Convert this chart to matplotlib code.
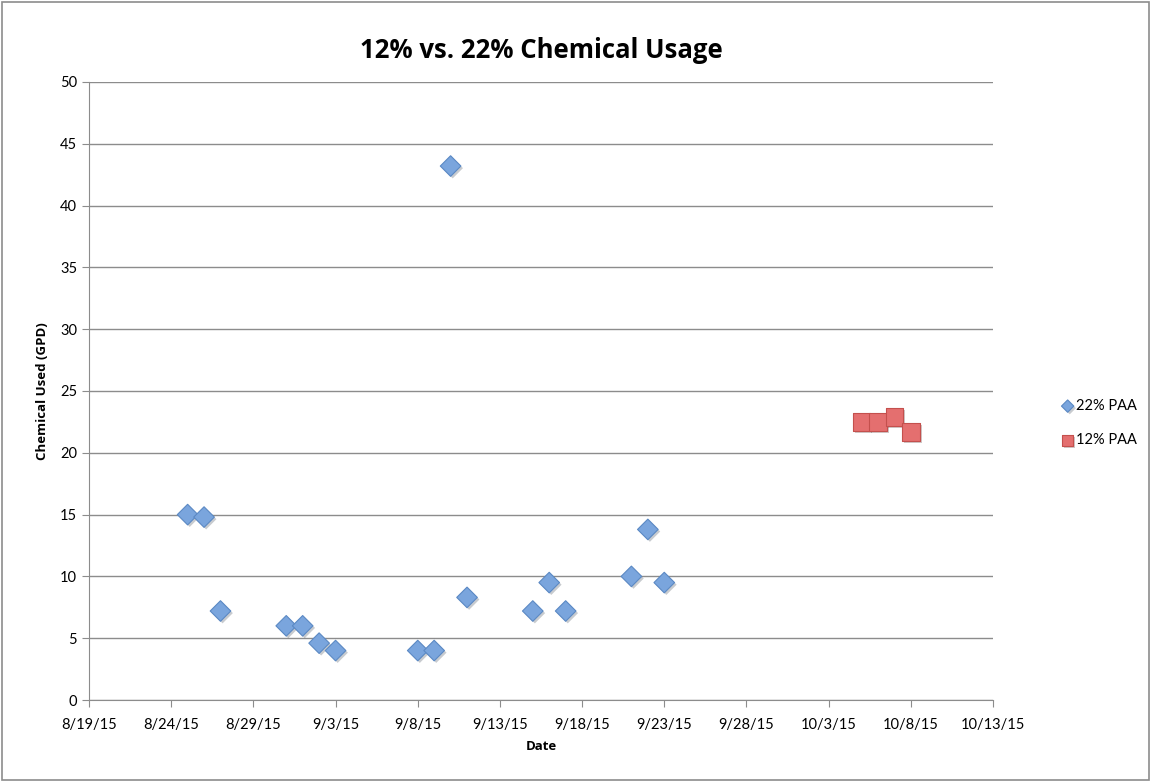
import numpy as np
import matplotlib
matplotlib.use('Agg')
from matplotlib import pyplot as plt
import matplotlib.patheffects as pe
from datetime import date, timedelta

plt.rcParams['font.family'] = ['Lato', 'DejaVu Sans']

# 22% PAA series
paa22_dates = ['2015-08-25', '2015-08-26', '2015-08-27', '2015-08-31', '2015-09-01',
               '2015-09-02', '2015-09-03', '2015-09-08', '2015-09-09', '2015-09-10',
               '2015-09-11', '2015-09-15', '2015-09-16', '2015-09-17', '2015-09-21',
               '2015-09-22', '2015-09-23']
paa22_vals = [15.0, 14.8, 7.2, 6.0, 6.0, 4.6, 4.0, 4.0, 4.0, 43.2,
              8.3, 7.2, 9.5, 7.2, 10.0, 13.8, 9.5]

# 12% PAA series
paa12_dates = ['2015-10-05', '2015-10-06', '2015-10-07', '2015-10-08']
paa12_vals = [22.5, 22.5, 22.9, 21.7]

x22 = [np.datetime64(d) for d in paa22_dates]
x12 = [np.datetime64(d) for d in paa12_dates]

bold_font = ['Open Sans', 'DejaVu Sans']
shadow = [pe.SimplePatchShadow(offset=(1.5, -1.5), alpha=0.25), pe.Normal()]

fig = plt.figure(figsize=(11.51, 7.82), dpi=100)
ax = fig.add_axes([89 / 1151, 1 - 700 / 782, (993 - 89) / 1151, (700 - 82) / 782])

# outer frame
fig.patches.append(plt.Rectangle((0.002, 0.002), 0.996, 0.996, transform=fig.transFigure,
                                 fill=False, edgecolor='#8c8c8c', linewidth=1.2))

ax.scatter(x22, paa22_vals, marker='D', s=110, facecolor='#7aa5dd', edgecolor='#5b89c4',
           linewidth=0.8, zorder=3, label='22% PAA', path_effects=shadow)
ax.scatter(x12, paa12_vals, marker='s', s=160, facecolor='#e46f6f', edgecolor='#c4504d',
           linewidth=0.8, zorder=3, label='12% PAA', path_effects=shadow)

start = date(2015, 8, 19)
ticks = [start + timedelta(days=5 * i) for i in range(12)]
ax.set_xlim(ticks[0], ticks[-1])
ax.set_xticks(ticks)
ax.set_xticklabels([f'{t.month}/{t.day}/15' for t in ticks], fontsize=10.5)
ax.set_ylim(0, 50)
ax.set_yticks(range(0, 51, 5))
ax.tick_params(axis='y', labelsize=10.5, length=5, color='#8c8c8c', direction='out')
ax.tick_params(axis='x', length=5, color='#8c8c8c', direction='out', pad=8)

ax.grid(axis='y', color='#8c8c8c', linewidth=1)
ax.set_axisbelow(True)
for s in ['top', 'right']:
    ax.spines[s].set_visible(False)
for s in ['left', 'bottom']:
    ax.spines[s].set_color('#8c8c8c')

ax.set_title('12% vs. 22% Chemical Usage', fontsize=18.5, fontweight='bold',
             family=bold_font, pad=17)
ax.set_xlabel('Date', fontsize=9.5, fontweight='bold', family=bold_font, labelpad=6)
ax.set_ylabel('Chemical Used (GPD)', fontsize=9.5, fontweight='bold', family=bold_font,
              labelpad=8)

leg = ax.legend(loc='center left', bbox_to_anchor=(1.06, 0.448), frameon=False,
                fontsize=10.5, handletextpad=0.1, markerscale=0.6, labelspacing=1.4,
                handlelength=1.0)

fig.savefig('out.png', dpi=100)
